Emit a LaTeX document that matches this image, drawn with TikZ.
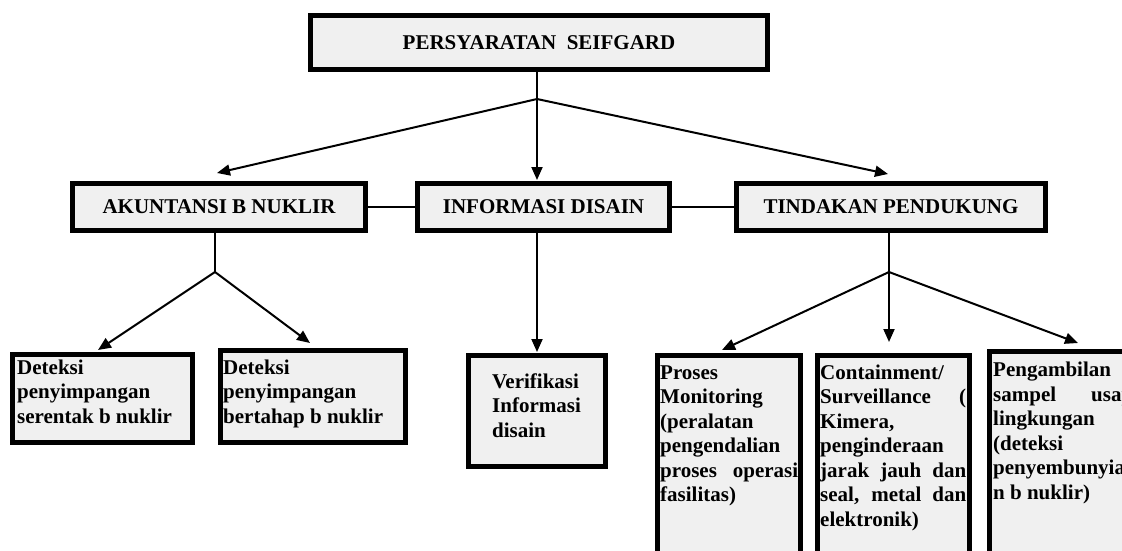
\documentclass[tikz,border=0pt]{standalone}
\usepackage{fontspec}
\setmainfont{Liberation Serif}
\usepackage{tikz}
\usetikzlibrary{arrows.meta, positioning, calc}
\definecolor{BoxGray}{rgb}{0.94, 0.94, 0.94}

\begin{document}
\begin{tikzpicture}[x=1pt, y=-1pt, >={Triangle[length=13pt, width=11pt]},
    box/.style={draw, line width=5pt, fill=BoxGray, inner sep=0pt, outer sep=0pt,
                font=\bfseries\fontsize{21}{24.5}\selectfont},
    txt/.style={font=\bfseries\fontsize{21}{24.5}\selectfont, inner sep=0pt,
                align=left, anchor=base west},
    link/.style={line width=2pt}]
        \useasboundingbox (0,0) rectangle (1122,550);
        \clip (0,0) rectangle (1122,550);

        % Top requirement
        \node [box, minimum width=457pt, minimum height=54pt] (syarat) at (539,42.5) {PERSYARATAN\ \ SEIFGARD};

        % Middle row
        \node [box, minimum width=293pt, minimum height=47pt] (akun) at (219,207) {AKUNTANSI B NUKLIR};
        \node [box, minimum width=252pt, minimum height=47pt] (info) at (543.5,207) {INFORMASI DISAIN};
        \node [box, minimum width=309pt, minimum height=47pt] (tind) at (891,207) {TINDAKAN PENDUKUNG};
        \draw [link] (akun.east) -- (info.west);
        \draw [link] (info.east) -- (tind.west);

        % Bottom boxes
        \node [box, minimum width=180pt, minimum height=88pt] (det1) at (102.5,398.5) {};
        \node [box, minimum width=185pt, minimum height=92pt] (det2) at (313,396.5) {};
        \node [box, minimum width=137pt, minimum height=111pt] (verif) at (537,411) {};
        \node [box, minimum width=143pt, minimum height=242pt] (proses) at (729,476.5) {};
        \node [box, minimum width=152pt, minimum height=242pt] (contain) at (893.5,476.5) {};
        \node [box, minimum width=149pt, minimum height=246pt] (ambil) at (1064,474.5) {};

        % Texts of the bottom boxes (placed by the baseline of their last line)
        \node [txt] (tdet1) at (17,423) {Deteksi\\penyimpangan\\serentak b nuklir};
        \node [txt] (tdet2) at (223,423) {Deteksi\\penyimpangan\\bertahap b nuklir};
        \node [txt] (tverif) at (492,437) {Verifikasi\\Informasi\\disain};
        \node [txt] (tproses) at (660,501.5) {Proses\\Monitoring\\(peralatan\\pengendalian\\\makebox[138pt][s]{proses operasi}\\fasilitas)};
        \node [txt] (tcontain) at (820,526) {Containment/\\\makebox[146pt][s]{Surveillance (}\\Kimera,\\penginderaan\\\makebox[146pt][s]{jarak jauh dan}\\\makebox[146pt][s]{seal, metal dan}\\elektronik)};
        \node [txt] (tambil) at (993,499) {Pengambilan\\\makebox[140pt][s]{sampel usap}\\lingkungan\\(deteksi\\penyembunyia\\n b nuklir)};

        % Junctions and arrow ends
        \coordinate (jtop) at (537,99);
        \coordinate (jakun) at (215,272);
        \coordinate (jtind) at (889,272);
        \coordinate (eakun) at (217,173);
        \coordinate (einfo) at (537,180);
        \coordinate (etind) at (888,174);
        \coordinate (edet1) at (98,350);
        \coordinate (edet2) at (310,343);
        \coordinate (everif) at (537,352);
        \coordinate (eproses) at (722,350);
        \coordinate (econtain) at (889,342);
        \coordinate (eambil) at (1078,343);

        % Connectors from the top
        \draw [link] (jtop |- syarat.south) -- (jtop);
        \draw [link, ->] (jtop) -- (eakun);
        \draw [link, ->] (jtop) -- (einfo);
        \draw [link, ->] (jtop) -- (etind);

        % Connectors below the middle row
        \draw [link] (jakun |- akun.south) -- (jakun);
        \draw [link, ->] (jakun) -- (edet1);
        \draw [link, ->] (jakun) -- (edet2);
        \draw [link, ->] (everif |- info.south) -- (everif);
        \draw [link] (jtind |- tind.south) -- (jtind);
        \draw [link, ->] (jtind) -- (eproses);
        \draw [link, ->] (jtind) -- (econtain);
        \draw [link, ->] (jtind) -- (eambil);
    \end{tikzpicture}
\end{document}
